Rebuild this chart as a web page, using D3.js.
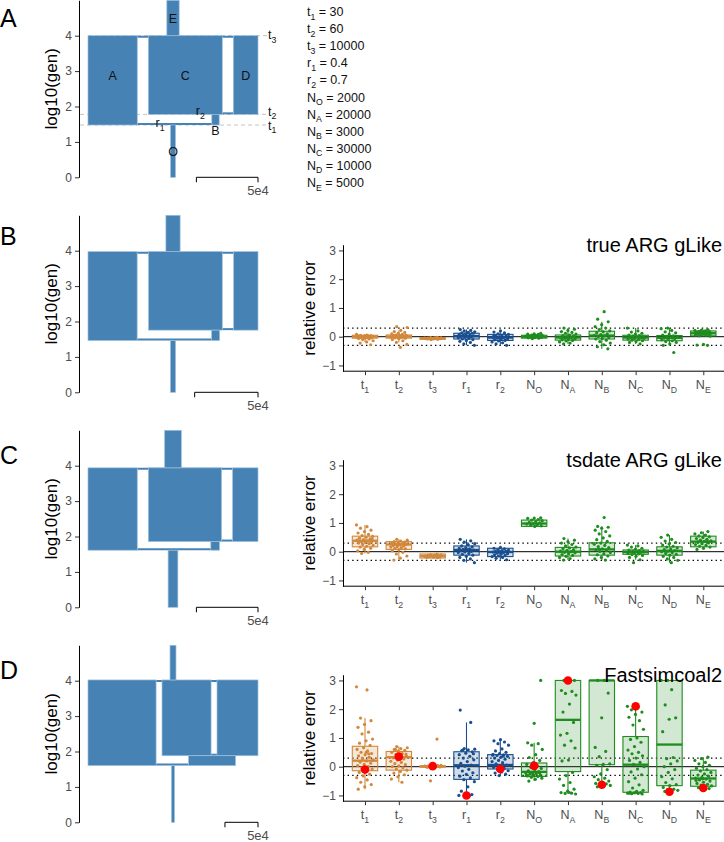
<!DOCTYPE html>
<html><head><meta charset="utf-8">
<script src="https://cdn.jsdelivr.net/npm/d3@7"></script>
<style>
body{margin:0;background:#fff}
text{font-family:"Liberation Sans",Arial,Helvetica,sans-serif}
</style></head>
<body><svg id="c" width="724" height="842"></svg>
<script>
// ---------- DATA ----------
const catBase = ["t","t","t","r","r","N","N","N","N","N","N"];
const catSub  = ["1","2","3","1","2","O","A","B","C","D","E"];
const catKeys = ["t1","t2","t3","r1","r2","NO","NA","NB","NC","ND","NE"];
const catGroup = ["t","t","t","r","r","N","N","N","N","N","N"];
const paramTrue = ["30","60","10000","0.4","0.7","2000","20000","3000","30000","10000","5000"];

// demographic models drawn on the left (row 0 = truth, then gLike true ARG, tsdate ARG, fsc2)
const demoT1 = [30, 29, 41, 40];
const demoT2 = [60, 57, 72, 76];
const demoT3 = [10000, 9400, 8700, 10500];
const demoNO = [2000, 2000, 3960, 2300];
const demoNA = [20000, 19400, 20000, 51500];
const demoNB = [3000, 3120, 3500, 35600];
const demoNC = [30000, 29100, 29700, 37100];
const demoND = [10000, 9600, 10300, 31000];
const demoNE = [5000, 5600, 6750, 4500];
const scaleBarValue = 5e4;

const methodTitles = ["true ARG gLike", "tsdate ARG gLike", "Fastsimcoal2"];

// true ARG gLike
const q1True  = [-0.05,-0.05,-0.09,-0.08,-0.13,-0.05,-0.12,-0.08,-0.12,-0.14,0.03];
const medTrue = [0.0,0.01,-0.06,0.02,-0.03,0.0,-0.03,0.04,-0.03,-0.04,0.12];
const q3True  = [0.05,0.06,-0.03,0.12,0.08,0.05,0.06,0.19,0.05,0.04,0.2];
const ptsTrue = [
 [0.08,0.06,0.05,0.04,0.03,0.03,0.02,0.01,0.01,0,0,-0.01,-0.01,-0.02,-0.03,-0.03,-0.04,-0.05,-0.06,-0.08,-0.1,-0.14,-0.18,-0.22,-0.28],
 [0.35,0.32,0.22,0.18,0.15,0.12,0.1,0.08,0.06,0.05,0.04,0.02,0.01,0,-0.01,-0.02,-0.04,-0.05,-0.07,-0.1,-0.14,-0.2,-0.27,-0.37,0.03],
 [-0.02,-0.03,-0.04,-0.04,-0.05,-0.05,-0.06,-0.06,-0.06,-0.07,-0.07,-0.08,-0.08,-0.09,-0.1,-0.05,-0.06,-0.07],
 [0.25,0.22,0.2,0.17,0.15,0.13,0.12,0.1,0.08,0.06,0.05,0.03,0.02,0.01,0,-0.02,-0.04,-0.06,-0.08,-0.1,-0.13,-0.16,-0.2,-0.25,-0.3],
 [0.2,0.16,0.13,0.1,0.08,0.06,0.04,0.02,0,-0.02,-0.03,-0.05,-0.07,-0.09,-0.11,-0.13,-0.15,-0.18,-0.21,-0.25,-0.3,-0.05,0.01],
 [0.12,0.1,0.09,0.08,0.06,0.05,0.04,0.03,0.02,0.01,0,0,-0.01,-0.02,-0.03,-0.04,-0.05,-0.07,0.02,0.01],
 [0.3,0.26,0.22,0.18,0.15,0.12,0.09,0.06,0.04,0.02,0,-0.02,-0.03,-0.05,-0.07,-0.09,-0.11,-0.13,-0.15,-0.18,-0.22,-0.25,0.0,-0.04],
 [0.87,0.61,0.52,0.42,0.35,0.3,0.25,0.2,0.17,0.14,0.1,0.07,0.05,0.03,0,-0.03,-0.06,-0.08,-0.12,-0.17,-0.22,-0.28,-0.35,-0.42,0.04],
 [0.3,0.2,0.16,0.12,0.09,0.06,0.04,0.02,0,-0.01,-0.03,-0.04,-0.06,-0.08,-0.1,-0.12,-0.14,-0.17,-0.2,-0.25,-0.02,-0.05],
 [0.3,0.28,0.22,0.17,0.13,0.09,0.06,0.03,0.01,-0.01,-0.03,-0.05,-0.07,-0.09,-0.11,-0.14,-0.17,-0.2,-0.25,-0.3,-0.55,-0.04],
 [0.25,0.23,0.22,0.2,0.19,0.18,0.16,0.15,0.14,0.13,0.12,0.11,0.1,0.09,0.08,0.06,0.05,0.03,0.02,-0.27,-0.29,-0.3,0.12]
];

// tsdate ARG gLike
const q1Ts  = [0.17,0.08,-0.22,-0.12,-0.17,0.88,-0.15,-0.12,-0.09,-0.12,0.17];
const medTs = [0.38,0.25,-0.15,0.06,-0.01,0.98,0.0,0.08,-0.01,0.03,0.35];
const q3Ts  = [0.54,0.35,-0.08,0.2,0.12,1.1,0.15,0.31,0.06,0.17,0.54];
const ptsTs = [
 [0.93,0.87,0.82,0.75,0.7,0.65,0.6,0.56,0.53,0.5,0.47,0.45,0.42,0.4,0.38,0.36,0.34,0.32,0.3,0.28,0.25,0.22,0.19,0.16,0.12,0.08,0.03,-0.02,-0.06,0.44,0.37],
 [0.43,0.4,0.37,0.35,0.33,0.31,0.29,0.27,0.26,0.25,0.24,0.22,0.2,0.18,0.16,0.14,0.12,0.1,0.07,0.03,-0.02,-0.08,-0.15,-0.22,-0.29,0.28,0.23],
 [-0.08,-0.1,-0.11,-0.12,-0.13,-0.14,-0.15,-0.15,-0.16,-0.17,-0.18,-0.19,-0.2,-0.21,-0.14,-0.16],
 [0.43,0.38,0.33,0.28,0.24,0.2,0.17,0.14,0.12,0.1,0.08,0.06,0.05,0.03,0.01,-0.01,-0.03,-0.06,-0.09,-0.12,-0.16,-0.2,-0.25,-0.3,-0.38,0.07],
 [0.15,0.12,0.1,0.08,0.06,0.04,0.02,0.01,0,-0.01,-0.03,-0.05,-0.07,-0.09,-0.11,-0.13,-0.15,-0.17,-0.2,-0.23,-0.28,-0.02],
 [1.18,1.17,1.16,1.12,1.1,1.08,1.05,1.02,1.0,0.98,0.96,0.94,0.92,0.9,0.88],
 [0.46,0.4,0.35,0.3,0.25,0.2,0.16,0.13,0.1,0.07,0.05,0.02,0,-0.02,-0.04,-0.07,-0.1,-0.13,-0.16,-0.2,-0.24,-0.29,0.01],
 [1.19,0.88,0.85,0.82,0.75,0.7,0.62,0.55,0.48,0.42,0.36,0.3,0.26,0.22,0.18,0.14,0.1,0.07,0.04,0.01,-0.03,-0.07,-0.11,-0.15,-0.2,-0.25,-0.29,0.09],
 [0.23,0.2,0.16,0.12,0.09,0.06,0.04,0.02,0.01,0,-0.01,-0.02,-0.04,-0.06,-0.08,-0.1,-0.13,-0.16,-0.2,-0.28,-0.38,-0.01],
 [0.58,0.5,0.43,0.37,0.32,0.27,0.23,0.19,0.16,0.13,0.1,0.07,0.04,0.02,0,-0.03,-0.06,-0.09,-0.12,-0.16,-0.2,-0.25,-0.3,-0.38,0.03],
 [0.7,0.66,0.62,0.58,0.55,0.52,0.49,0.46,0.43,0.4,0.38,0.36,0.34,0.31,0.28,0.25,0.22,0.19,0.16,0.12,0.08,0.35]
];

// Fastsimcoal2
const q1Fsc  = [-0.14,-0.12,-0.01,-0.44,-0.08,-0.34,-0.17,0.07,-0.89,-0.66,-0.68];
const medFsc = [0.21,0.33,0.01,0.05,0.06,-0.18,1.63,3.0,0.07,0.77,-0.41];
const q3Fsc  = [0.71,0.53,0.03,0.52,0.42,0.13,3.0,3.0,1.05,3.0,-0.12];
const redFsc = [-0.1,0.35,0.02,-1.0,-0.08,0.03,3.0,-0.63,2.1,-0.87,-0.74];
const ptsFsc = [
 [2.78,2.67,1.69,1.6,1.47,1.37,1.2,1.14,0.96,0.9,0.82,0.74,0.66,0.6,0.55,0.5,0.46,0.42,0.38,0.33,0.28,0.24,0.2,0.16,0.12,0.08,0.04,0.0,-0.04,-0.08,-0.14,-0.2,-0.26,-0.32,-0.38,-0.46,-0.54,-0.62,-0.7,-0.78,0.45,0.3,0.22,0.5],
 [0.7,0.66,0.63,0.6,0.57,0.54,0.5,0.46,0.42,0.38,0.35,0.31,0.27,0.23,0.19,0.15,0.11,0.07,0.03,0,-0.04,-0.08,-0.12,-0.17,-0.22,-0.28,-0.35,-0.43,-0.54,0.6,0.44,0.25],
 [0.96,-0.49,0.05,0.03,0.02,0.02,0.01,0.01,0,0,-0.01,-0.01,-0.02,0.04,0.0,0.02],
 [1.97,1.54,0.63,0.61,0.59,0.56,0.52,0.47,0.42,0.36,0.3,0.24,0.18,0.12,0.06,0.02,-0.03,-0.09,-0.15,-0.21,-0.27,-0.33,-0.39,-0.45,-0.52,-0.7,-0.85,-0.97,-0.99,-1.0,-1.0,0.58,0.45],
 [0.94,0.9,0.86,0.8,0.75,0.62,0.55,0.5,0.46,0.43,0.41,0.39,0.36,0.33,0.3,0.26,0.22,0.18,0.14,0.1,0.06,0.02,-0.02,-0.06,-0.1,-0.14,-0.18,-0.22,-0.26,-0.31,0.4,0.37],
 [3.0,1.51,0.83,0.8,0.75,0.6,0.42,0.32,0.22,0.14,0.08,0.03,-0.02,-0.06,-0.1,-0.14,-0.17,-0.2,-0.22,-0.24,-0.26,-0.28,-0.3,-0.32,-0.34,-0.37,-0.4,-0.44,-0.5,-0.21,-0.25,-0.29],
 [3.0,3.0,2.98,2.65,2.62,2.55,2.49,2.18,1.9,1.54,1.16,1.1,0.9,0.75,0.65,0.23,0.2,-0.2,-0.31,-0.43,-0.55,-0.65,-0.78,-0.85,-0.9,-0.92,-0.93,-0.95,-0.89],
 [3.0,3.0,2.56,1.7,0.67,0.53,0.35,0.1,0.08,0.05,-0.1,-0.25,-0.35,-0.4,-0.45,-0.5,-0.55,-0.58,-0.6,-0.62,-0.65,-0.68,-0.7],
 [2.1,2.05,1.98,1.9,1.82,1.72,1.6,1.45,1.3,1.0,0.95,0.85,0.7,0.58,0.5,0.45,0.38,0.3,0.22,0.15,0.08,0.0,-0.08,-0.18,-0.28,-0.4,-0.52,-0.63,-0.74,-0.82,-0.86,-0.88,-0.9,-0.91,-0.92,-0.93,-0.94,-0.95,-0.9,-0.92],
 [3.0,3.0,2.68,2.15,1.7,1.65,1.22,0.32,0.28,0.2,0.1,0.0,-0.1,-0.2,-0.35,-0.42,-0.55,-0.62,-0.66,-0.72,-0.78,-0.8,-0.82,-0.84,-0.86],
 [0.33,0.28,0.22,0.15,0.1,0.05,0.0,-0.05,-0.1,-0.15,-0.2,-0.25,-0.29,-0.33,-0.37,-0.4,-0.43,-0.46,-0.5,-0.54,-0.58,-0.61,-0.64,-0.67,-0.7,-0.73,-0.76,-0.42,-0.48]
];

// ---------- STYLE ----------
const GRAY = "#4d4d4d";
const DEME = "#4682b4";
const DEME_EDGE = "#9cc0de";
const groupColor = {t:"#d2883c", r:"#1a4f8f", N:"#1e8c1e"};
const ROW = 215;
const gapUnits = 9000;

const svg = d3.select("#c");

function subText(g, x, y, base, sub, rest, size, anchor, fill) {
  const t = g.append("text").attr("x", x).attr("y", y).attr("font-size", size)
    .attr("text-anchor", anchor).attr("fill", fill);
  t.append("tspan").text(base);
  if (sub) t.append("tspan").attr("font-size", size * 0.7).attr("dy", size * 0.28).text(sub);
  if (rest) t.append("tspan").attr("dy", -size * 0.28).text(rest);
  return t;
}

// ---------- PANEL LETTERS ----------
const letters = ["A","B","C","D"], letterY = [27, 245, 464, 679];
letters.forEach((L, i) => svg.append("text").attr("x", 0).attr("y", letterY[i])
  .attr("font-size", 25).attr("fill", "#000").text(L));

// ---------- DEMOGRAPHY PANELS ----------
function drawDemo(r) {
  const off = r * ROW;
  const g = svg.append("g");
  const y = d3.scaleLinear().domain([0, 5]).range([177.3 + off, 0.3 + off]);
  const NA = demoNA[r], NB = demoNB[r], NC = demoNC[r], ND = demoND[r], NO = demoNO[r], NE = demoNE[r];
  const total = 2 * (NA + NC + ND) + 2 * gapUnits;
  const x = d3.scaleLinear().domain([0, total]).range([88, 258]);
  const a0 = 0, a1 = 2 * NA, c0 = a1 + gapUnits, c1 = c0 + 2 * NC, d0 = c1 + gapUnits, d1 = d0 + 2 * ND;
  const cc = (c0 + c1) / 2, dc = (d0 + d1) / 2, bc = (cc + dc) / 2, mid = total / 2;
  const L1 = Math.log10(demoT1[r]), L2 = Math.log10(demoT2[r]), L3 = Math.log10(demoT3[r]);

  if (r === 0) {
    [[L1, 80], [L2, 80], [L3, 88]].forEach(([L, xs]) => {
      g.append("line").attr("x1", xs).attr("x2", 267).attr("y1", y(L)).attr("y2", y(L))
        .attr("stroke", "#c4c4c4").attr("stroke-width", 1).attr("stroke-dasharray", "4,3");
    });
  }
  const conn = [[a1, bc - NB, L1, -1], [c1, d0, L2, -1], [a1, d0, L3, 1]];
  conn.forEach(([xa, xb, L, s]) => {
    g.append("line").attr("x1", x(xa)).attr("x2", x(xb)).attr("y1", y(L) + s).attr("y2", y(L) + s)
      .attr("stroke", DEME).attr("stroke-width", 2);
  });
  const rects = [
    [a0, a1, L1, L3], [c0, c1, L2, L3], [d0, d1, L2, L3],
    [bc - NB, bc + NB, L1, L2], [mid - NO, mid + NO, 0, L1], [mid - NE, mid + NE, L3, 5]
  ];
  rects.forEach(([xa, xb, ya, yb]) => {
    g.append("rect").attr("x", x(xa)).attr("width", x(xb) - x(xa))
      .attr("y", y(yb)).attr("height", y(ya) - y(yb))
      .attr("fill", DEME).attr("stroke", DEME_EDGE).attr("stroke-width", 0.7);
  });

  const ax = g.append("g").attr("transform", "translate(79,0)")
    .call(d3.axisLeft(y).tickValues([0, 1, 2, 3, 4]).tickSize(4).tickSizeOuter(0).tickFormat(d3.format("d")));
  ax.select(".domain").attr("stroke", "#000");
  ax.selectAll(".tick line").attr("stroke", "#333");
  ax.selectAll(".tick text").attr("fill", GRAY).attr("font-size", 12)
    .style("font-family", '"Liberation Sans",Arial,sans-serif');
  g.append("text").attr("transform", `translate(56.5,${(y(0) + y(5)) / 2}) rotate(-90)`)
    .attr("text-anchor", "middle").attr("font-size", 17).attr("fill", "#000").text("log10(gen)");

  const xr = x(total), xl = xr - (x(scaleBarValue) - x(0)), yb = y(0);
  g.append("path").attr("d", `M${xl},${yb + 5}V${yb}H${xr}V${yb + 5}`)
    .attr("fill", "none").attr("stroke", "#000").attr("stroke-width", 1);
  g.append("text").attr("x", xr).attr("y", yb + 18).attr("text-anchor", "middle")
    .attr("font-size", 13).attr("fill", GRAY).text("5e4");

  if (r === 0) {
    const lab = (t, px, py) => g.append("text").attr("x", px).attr("y", py).attr("text-anchor", "middle")
      .attr("font-size", 12.5).attr("fill", "#111").text(t);
    const ym = y((L2 + L3) / 2) + 4.5;
    lab("A", x((a0 + a1) / 2), ym);
    lab("C", x(cc), ym);
    lab("D", x(dc), ym);
    lab("E", x(mid), y((L3 + 5) / 2) + 4.5);
    lab("O", x(mid), y(L1 / 2) + 4.5);
    lab("B", x(bc), y(L1) + 10);
    subText(g, x(mid - NO) - 6, y(L1) + 2, "r", "1", null, 12.5, "end", "#111");
    subText(g, x(bc - NB) - 7, y(L2) + 1, "r", "2", null, 12.5, "end", "#111");
    subText(g, 268, y(L3) + 3.5, "t", "3", null, 12.5, "start", "#111");
    subText(g, 268, y(L2) + 1.5, "t", "2", null, 12.5, "start", "#111");
    subText(g, 268, y(L1) + 4.5, "t", "1", null, 12.5, "start", "#111");
  }
}
for (let r = 0; r < 4; r++) drawDemo(r);

// ---------- PARAMETER LIST ----------
catKeys.forEach((k, i) => {
  subText(svg, 307, 16 + i * 17.1, catBase[i], catSub[i], " = " + paramTrue[i], 12.5, "start", "#111");
});

// ---------- ERROR PANELS ----------
const xP = d3.scalePoint().domain(catKeys).range([365, 703.3]);
const boxW = 25.4;

function drawErr(r, title, q1, med, q3, pts, red) {
  const zero = 121.7 + r * ROW;
  const g = svg.append("g");
  const y = d3.scaleLinear().domain([-1.2, 3.2]).range([zero + 34.5, zero - 92]);
  const xL = 343, xR = 724;

  [0.3, -0.3].forEach(v => g.append("line").attr("x1", xL).attr("x2", xR).attr("y1", y(v)).attr("y2", y(v))
    .attr("stroke", "#000").attr("stroke-width", 1.4).attr("stroke-dasharray", "1.4,3.2"));
  g.append("line").attr("x1", xL).attr("x2", xR).attr("y1", y(0)).attr("y2", y(0))
    .attr("stroke", "#000").attr("stroke-width", 1);

  catKeys.forEach((k, i) => {
    const col = groupColor[catGroup[i]];
    const cx = xP(k);
    const p = pts[i];
    const iqr = q3[i] - q1[i];
    const inHi = p.filter(v => v <= q3[i] + 1.5 * iqr), inLo = p.filter(v => v >= q1[i] - 1.5 * iqr);
    const hi = Math.max(q3[i], d3.max(inHi)), lo = Math.min(q1[i], d3.min(inLo));
    g.append("line").attr("x1", cx).attr("x2", cx).attr("y1", y(q3[i])).attr("y2", y(hi))
      .attr("stroke", col).attr("stroke-width", 1.1);
    g.append("line").attr("x1", cx).attr("x2", cx).attr("y1", y(q1[i])).attr("y2", y(lo))
      .attr("stroke", col).attr("stroke-width", 1.1);
    g.append("rect").attr("x", cx - boxW / 2).attr("width", boxW)
      .attr("y", y(q3[i])).attr("height", Math.max(0.5, y(q1[i]) - y(q3[i])))
      .attr("fill", col).attr("fill-opacity", 0.2).attr("stroke", col).attr("stroke-width", 1.1);
    g.append("line").attr("x1", cx - boxW / 2).attr("x2", cx + boxW / 2).attr("y1", y(med[i])).attr("y2", y(med[i]))
      .attr("stroke", col).attr("stroke-width", 2.3);
    g.selectAll(null).data(p).enter().append("circle")
      .attr("cx", (v, j) => cx + (((j * 0.6180339887 + i * 0.377) % 1) - 0.5) * 17)
      .attr("cy", v => y(v)).attr("r", 1.6).attr("fill", col);
    if (red) g.append("circle").attr("cx", cx).attr("cy", y(red[i])).attr("r", 4.3).attr("fill", "#ff0000");
  });

  const ay = g.append("g").attr("transform", `translate(${xL},0)`)
    .call(d3.axisLeft(y).tickValues([-1, 0, 1, 2, 3]).tickSize(4).tickSizeOuter(0).tickFormat(d3.format("d")));
  ay.select(".domain").attr("stroke", "#000");
  ay.selectAll(".tick line").attr("stroke", "#333");
  ay.selectAll(".tick text").attr("fill", GRAY).attr("font-size", 12)
    .style("font-family", '"Liberation Sans",Arial,sans-serif');
  const yb = y(-1.2);
  g.append("line").attr("x1", xL).attr("x2", xR).attr("y1", yb).attr("y2", yb).attr("stroke", "#000").attr("stroke-width", 1);
  const ax = g.append("g").attr("transform", `translate(0,${yb})`)
    .call(d3.axisBottom(xP).tickSize(4).tickSizeOuter(0).tickFormat(""));
  ax.select(".domain").remove();
  ax.selectAll(".tick line").attr("stroke", "#333");
  catKeys.forEach((k, i) => subText(g, xP(k), yb + 18, catBase[i], catSub[i], null, 12.5, "middle", GRAY));

  g.append("text").attr("transform", `translate(315,${(y(-1.2) + y(3.2)) / 2}) rotate(-90)`)
    .attr("text-anchor", "middle").attr("font-size", 17).attr("fill", "#000").text("relative error");
  g.append("text").attr("x", 722).attr("y", zero - 85).attr("text-anchor", "end")
    .attr("font-size", 20).attr("fill", "#000").text(title);
}
drawErr(1, methodTitles[0], q1True, medTrue, q3True, ptsTrue, null);
drawErr(2, methodTitles[1], q1Ts, medTs, q3Ts, ptsTs, null);
drawErr(3, methodTitles[2], q1Fsc, medFsc, q3Fsc, ptsFsc, redFsc);
</script></body></html>
